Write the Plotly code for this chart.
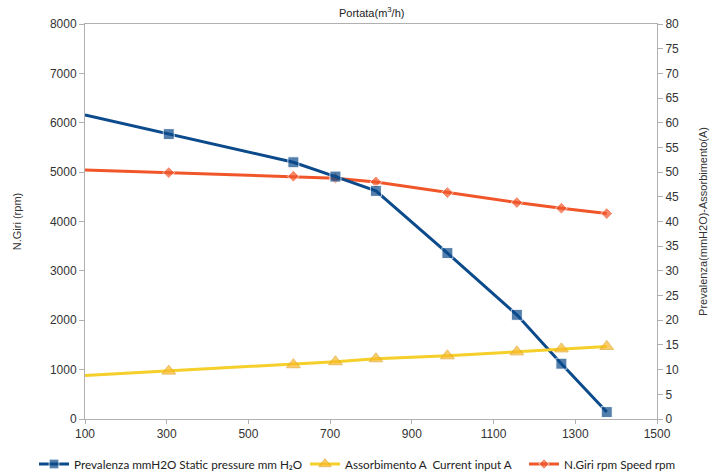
import plotly.graph_objects as go

portata = [100, 305, 610, 713, 812, 987, 1157, 1266, 1377]
prevalenza = [61.6, 57.7, 52.0, 49.1, 46.2, 33.6, 21.1, 11.2, 1.4]
assorbimento = [8.8, 9.7, 11.0, 11.6, 12.2, 12.8, 13.6, 14.2, 14.7]
n_giri = [5045, 4990, 4917, 4877, 4802, 4586, 4384, 4270, 4161]

x_ticks = [100, 300, 500, 700, 900, 1100, 1300, 1500]
left_ticks = list(range(0, 8001, 1000))
right_ticks = list(range(0, 81, 5))

names = ["Prevalenza mmH2O Static pressure mm H₂O",
         "Assorbimento A  Current input A",
         "N.Giri rpm Speed rpm"]

msize = lambda s: [0] + [s] * (len(portata) - 1)

fig = go.Figure()
fig.add_trace(go.Scatter(
    x=portata, y=prevalenza, name=names[0], yaxis="y2", mode="lines+markers",
    legend="legend",
    line=dict(color="#0B4A8B", width=3),
    marker=dict(symbol="square", size=msize(11), color="#0B4A8B")))
fig.add_trace(go.Scatter(
    x=portata, y=assorbimento, name=names[1], yaxis="y2", mode="lines+markers",
    legend="legend2",
    line=dict(color="#F5CF2A", width=3),
    marker=dict(symbol="triangle-up", size=msize(12), color="#F9BA2C",
                line=dict(color="#E0A020", width=1))))
fig.add_trace(go.Scatter(
    x=portata, y=n_giri, name=names[2], yaxis="y", mode="lines+markers",
    legend="legend3",
    line=dict(color="#F0562A", width=3),
    marker=dict(symbol="diamond", size=msize(9), color="#F0562A")))

W, H = 722, 473
leg_font = dict(family="Lato, Liberation Sans, sans-serif", size=11.7, color="#222222")


def leg(xpx):
    return dict(orientation="h", xref="container", yref="container",
                x=xpx / W, xanchor="left", y=1 - 464 / H, yanchor="middle",
                font=leg_font, itemwidth=30, bgcolor="rgba(0,0,0,0)", borderwidth=0)


axis_font = dict(family="Liberation Sans, Arial, sans-serif", size=12, color="#333333")
title_font = dict(family="Liberation Sans, Arial, sans-serif", size=11, color="#333333")
fig.update_layout(
    width=W, height=H,
    margin=dict(l=85, r=65, t=24, b=54, autoexpand=False),
    paper_bgcolor="white", plot_bgcolor="white",
    showlegend=True,
    legend=leg(34), legend2=leg(305), legend3=leg(524),
    xaxis=dict(range=[100, 1500], tickvals=x_ticks, showgrid=False, zeroline=False,
               showline=True, linecolor="#B0B0B0", linewidth=1, mirror=True, automargin=False,
               ticks="outside", ticklen=4, tickcolor="#B0B0B0", tickfont=axis_font),
    yaxis=dict(range=[0, 8000], tickvals=left_ticks, showgrid=False, zeroline=False,
               showline=True, linecolor="#B0B0B0", linewidth=1, automargin=False,
               ticks="outside", ticklen=5, tickcolor="#B0B0B0", tickfont=axis_font,
               title=dict(text="N.Giri (rpm)", standoff=26, font=title_font)),
    yaxis2=dict(range=[0, 80], tickvals=right_ticks, overlaying="y", side="right",
                showgrid=False, zeroline=False, showline=True, linecolor="#B0B0B0", linewidth=1,
                automargin=False,
                ticks="outside", ticklen=5, tickcolor="#B0B0B0", tickfont=axis_font,
                title=dict(text="Prevalenza(mmH2O)-Assorbimento(A)", standoff=21, font=title_font)),
    annotations=[dict(text="Portata(m<sup>3</sup>/h)", x=0.5, y=1, xref="paper", yref="paper",
                      xanchor="center", yanchor="bottom", yshift=3, showarrow=False,
                      font=dict(family="Liberation Sans, Arial, sans-serif", size=11, color="#222222"))],
)

fig.write_html("out.html", config={"displayModeBar": False},
               post_script="document.body.style.margin='0px';")
